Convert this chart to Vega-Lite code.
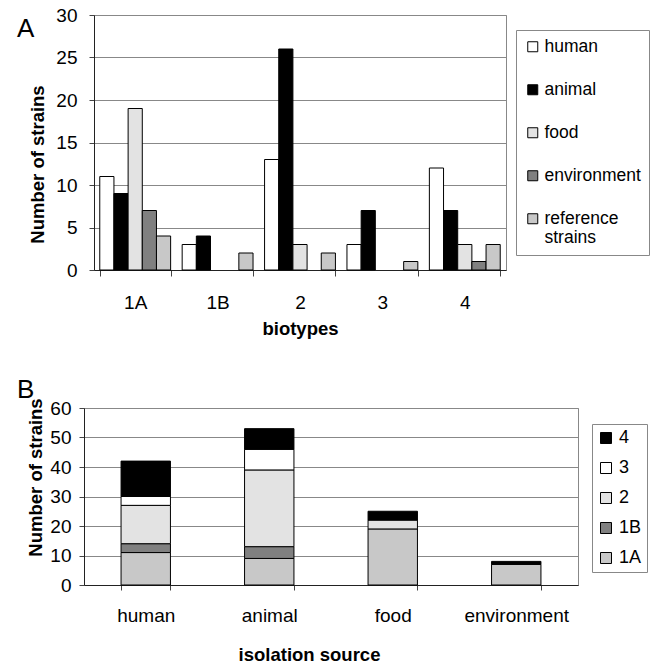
{
  "$schema": "https://vega.github.io/schema/vega-lite/v6.json",
  "padding": {"left": 15, "top": 5, "right": 0, "bottom": 0},
  "background": "white",
  "config": {
    "font": "Liberation Sans",
    "view": {"stroke": "#888888", "strokeWidth": 1},
    "axis": {
      "labelFont": "Liberation Sans",
      "labelFontSize": 19,
      "labelColor": "black",
      "titleFont": "Liberation Sans",
      "titleFontSize": 18.5,
      "titleFontWeight": "bold",
      "titleColor": "black",
      "domainColor": "#222222",
      "tickColor": "#444444"
    },
    "legend": {
      "labelFont": "Liberation Sans",
      "labelFontSize": 18,
      "labelColor": "black",
      "strokeColor": "#888888",
      "symbolType": "square",
      "symbolStrokeColor": "black",
      "symbolStrokeWidth": 1
    }
  },
  "datasets": {
    "strains": [
      {"biotype": "1A", "source": "human", "n": 11},
      {"biotype": "1A", "source": "animal", "n": 9},
      {"biotype": "1A", "source": "food", "n": 19},
      {"biotype": "1A", "source": "environment", "n": 7},
      {"biotype": "1A", "source": "reference strains", "n": 4},
      {"biotype": "1B", "source": "human", "n": 3},
      {"biotype": "1B", "source": "animal", "n": 4},
      {"biotype": "1B", "source": "food", "n": 0},
      {"biotype": "1B", "source": "environment", "n": 0},
      {"biotype": "1B", "source": "reference strains", "n": 2},
      {"biotype": "2", "source": "human", "n": 13},
      {"biotype": "2", "source": "animal", "n": 26},
      {"biotype": "2", "source": "food", "n": 3},
      {"biotype": "2", "source": "environment", "n": 0},
      {"biotype": "2", "source": "reference strains", "n": 2},
      {"biotype": "3", "source": "human", "n": 3},
      {"biotype": "3", "source": "animal", "n": 7},
      {"biotype": "3", "source": "food", "n": 0},
      {"biotype": "3", "source": "environment", "n": 0},
      {"biotype": "3", "source": "reference strains", "n": 1},
      {"biotype": "4", "source": "human", "n": 12},
      {"biotype": "4", "source": "animal", "n": 7},
      {"biotype": "4", "source": "food", "n": 3},
      {"biotype": "4", "source": "environment", "n": 1},
      {"biotype": "4", "source": "reference strains", "n": 3}
    ]
  },
  "spacing": 38,
  "resolve": {
    "scale": {"x": "independent", "y": "independent", "color": "independent"},
    "legend": {"color": "independent"}
  },
  "vconcat": [
    {
      "spacing": 0,
      "hconcat": [
        {"width": 1, "height": 1, "data": {"values": []}, "mark": "point", "view": {"stroke": null}},
        {
          "width": 412,
          "height": 255,
          "title": {"text": "A", "anchor": "start", "frame": "group", "fontSize": 26, "fontWeight": "normal", "color": "black", "dx": -77, "offset": -36},
          "data": {"name": "strains"},
          "transform": [{"filter": "datum.n > 0"}],
          "mark": {"type": "bar", "stroke": "black", "strokeWidth": 1},
          "encoding": {
            "x": {
              "field": "biotype", "type": "nominal",
              "scale": {"domain": ["1A", "1B", "2", "3", "4"], "paddingInner": 0.14, "paddingOuter": 0.07},
              "axis": {"title": "biotypes", "labelAngle": 0, "tickBand": "extent", "tickSize": 6, "labelPadding": 17, "titlePadding": 7, "grid": false}
            },
            "xOffset": {
              "field": "source", "type": "nominal",
              "scale": {"domain": ["human", "animal", "food", "environment", "reference strains"], "paddingInner": 0, "paddingOuter": 0}
            },
            "y": {
              "field": "n", "type": "quantitative",
              "scale": {"domain": [0, 30]},
              "axis": {"title": "Number of strains", "values": [0, 5, 10, 15, 20, 25, 30], "tickSize": 5, "labelPadding": 12, "titlePadding": 8, "titleY": 149, "grid": true, "gridColor": "#888888", "gridOpacity": 1}
            },
            "color": {
              "field": "source", "type": "nominal",
              "scale": {"domain": ["human", "animal", "food", "environment", "reference strains"], "range": ["#ffffff", "#000000", "#e3e3e3", "#808080", "#c8c8c8"]},
              "legend": {
                "title": null, "orient": "none", "legendX": 501, "legendY": 15,
                "padding": 8, "labelOffset": 3, "symbolSize": 100, "rowPadding": 24, "labelFontSize": 17.5,
                "labelExpr": "datum.label == 'reference strains' ? ['reference', 'strains'] : datum.label"
              }
            }
          }
        }
      ]
    },
    {
      "spacing": 0,
      "hconcat": [
        {"width": 1, "height": 1, "data": {"values": []}, "mark": "point", "view": {"stroke": null}},
        {
          "width": 494,
          "height": 177,
          "title": {"text": "B", "anchor": "start", "frame": "group", "fontSize": 26, "fontWeight": "normal", "color": "black", "dx": -67, "offset": -5},
          "data": {"name": "strains"},
          "transform": [{"filter": "datum.n > 0 && datum.source != 'reference strains'"}],
          "mark": {"type": "bar", "stroke": "black", "strokeWidth": 1},
          "encoding": {
            "x": {
              "field": "source", "type": "nominal",
              "scale": {"domain": ["human", "animal", "food", "environment"], "paddingInner": 0.6, "paddingOuter": 0.3},
              "axis": {"title": "isolation source", "labelAngle": 0, "tickBand": "extent", "tickSize": 5, "labelPadding": 16, "titlePadding": 20, "titleX": 225, "grid": false}
            },
            "y": {
              "field": "n", "type": "quantitative", "aggregate": "sum",
              "scale": {"domain": [0, 60]},
              "axis": {"title": "Number of strains", "values": [0, 10, 20, 30, 40, 50, 60], "tickSize": 5, "labelPadding": 8, "titlePadding": 4, "titleY": 69, "grid": true, "gridColor": "#888888", "gridOpacity": 1}
            },
            "order": {"field": "biotype", "sort": "ascending"},
            "color": {
              "field": "biotype", "type": "nominal",
              "scale": {"domain": ["4", "3", "2", "1B", "1A"], "range": ["#000000", "#ffffff", "#e3e3e3", "#808080", "#c8c8c8"]},
              "legend": {
                "title": null, "orient": "none", "legendX": 577, "legendY": 16,
                "padding": 5, "labelOffset": 4, "symbolSize": 121, "rowPadding": 12
              }
            }
          }
        }
      ]
    }
  ]
}
